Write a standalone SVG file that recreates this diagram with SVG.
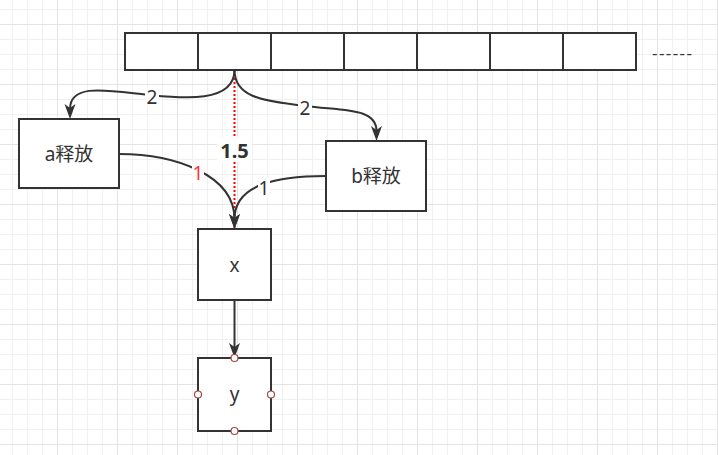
<svg xmlns="http://www.w3.org/2000/svg" width="718" height="455" viewBox="0 0 718 455">
<style>
.box{fill:#fff;stroke:#333;stroke-width:2}
.edge{fill:none;stroke:#333;stroke-width:2}
.txt{font-family:"Noto Sans","Noto Sans CJK SC",sans-serif;fill:#333;text-anchor:middle}
.node{font-size:19px}
.lbl{font-size:19px}
.lblbg{fill:#fff}
.port{fill:#fff;stroke:#a04848;stroke-width:1.2}
</style>
<defs>
<pattern id="grid" patternUnits="userSpaceOnUse" x="57" y="24" width="60" height="60">
<path d="M15.5 0V60M30.5 0V60M45.5 0V60M0 15.5H60M0 30.5H60M0 45.5H60" stroke="#f0f0f0" stroke-width="1" fill="none"/>
<path d="M0.5 0V60M0 0.5H60" stroke="#e4e4e4" stroke-width="1" fill="none"/>
</pattern>
<marker id="arr" markerUnits="userSpaceOnUse" markerWidth="20" markerHeight="20" refX="5" refY="6" orient="auto">
<path d="M0,0.5 L15,6 L0,11.5 L4,6 Z" fill="#333"/>
</marker>
</defs>
<rect width="718" height="455" fill="#fff"/>
<rect width="718" height="455" fill="url(#grid)"/>

<g id="connectors">
<path d="M234.5,70 L234.5,229" fill="none" stroke="#ff0000" stroke-width="2" stroke-dasharray="2 2"/>
<path class="edge" d="M234.5,70 C234.5,104 180,98 150,95 C110,91 70,82 70,109" marker-end="url(#arr)"/>
<path class="edge" d="M234.5,70 C234.5,100 270,101 305,106 C345,111 376.5,108 376.5,131" marker-end="url(#arr)"/>
<path class="edge" d="M119,154 C175,154 234.5,175 234.5,219" marker-end="url(#arr)"/>
<path class="edge" d="M326,176 C275,176 234.5,185 234.5,219" marker-end="url(#arr)"/>
<path class="edge" d="M234.5,300 L234.5,348" marker-end="url(#arr)"/>
<rect class="lblbg" x="145" y="87" width="14" height="20"/>
<text class="txt lbl" x="152" y="104">2</text>
<rect class="lblbg" x="298" y="98" width="14" height="20"/>
<text class="txt lbl" x="305" y="115">2</text>
<rect class="lblbg" x="192" y="163" width="12" height="20"/>
<text class="txt lbl" x="198" y="180" style="fill:#ff3333">1</text>
<rect class="lblbg" x="258" y="178" width="12" height="20"/>
<text class="txt lbl" x="264" y="195">1</text>
<rect class="lblbg" x="217" y="137" width="35" height="25"/>
<text class="txt" x="234.5" y="158" style="font-size:20px;font-weight:bold">1.5</text>
</g>

<g id="array">
<rect class="box" x="125" y="33" width="511" height="37"/>
<path d="M198,33V70M271,33V70M344,33V70M417,33V70M490,33V70M563,33V70" stroke="#333" stroke-width="2" fill="none"/>
</g>
<text id="ellipsis" class="txt lbl" x="672" y="59" textLength="40" lengthAdjust="spacing" style="font-size:17px">------</text>

<g id="a-release">
<rect class="box" x="19" y="119" width="100" height="69"/>
<text class="txt node" x="69" y="161">a释放</text>
</g>
<g id="b-release">
<rect class="box" x="326" y="141" width="100" height="70"/>
<text class="txt node" x="376" y="183">b释放</text>
</g>
<g id="node-x">
<rect class="box" x="198" y="229" width="73" height="71"/>
<text class="txt node" x="234.5" y="272">x</text>
</g>
<g id="node-y">
<rect class="box" x="198" y="358" width="73" height="73"/>
<text class="txt node" x="234.5" y="401">y</text>
<circle class="port" cx="234.5" cy="358" r="3.5"/>
<circle class="port" cx="198" cy="394.5" r="3.5"/>
<circle class="port" cx="271" cy="394.5" r="3.5"/>
<circle class="port" cx="234.5" cy="431" r="3.5"/>
</g>
</svg>
